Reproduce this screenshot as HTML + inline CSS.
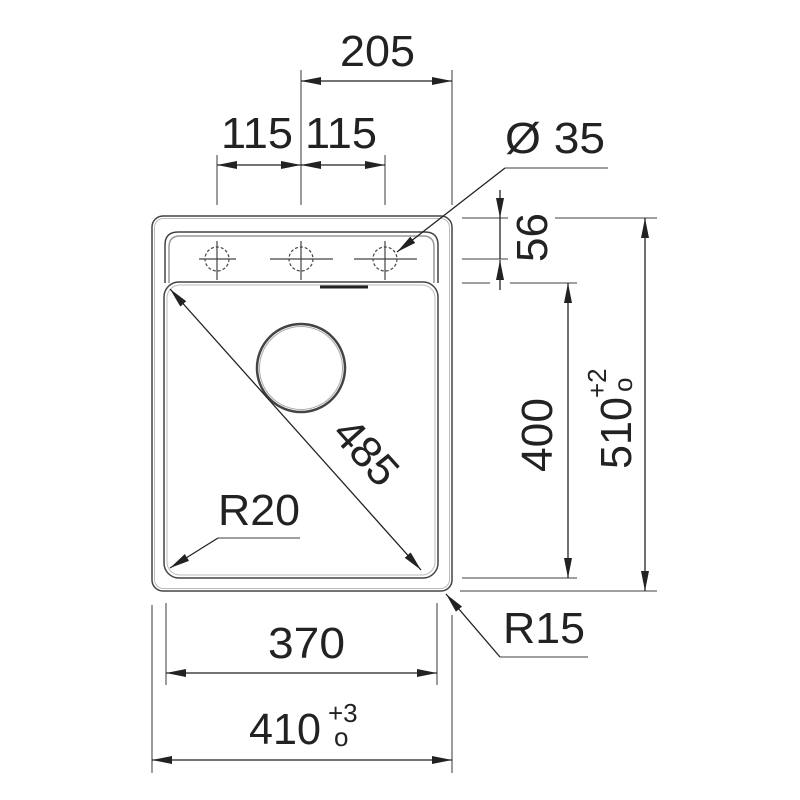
<!DOCTYPE html>
<html><head><style>html,body{margin:0;padding:0;background:#fff}svg{display:block}text{font-family:"Liberation Sans",Arial,sans-serif;fill:#222}</style></head>
<body>
<svg width="800" height="800" viewBox="0 0 800 800" xmlns="http://www.w3.org/2000/svg">
<defs>
<marker id="a" viewBox="0 0 20 8" refX="20" refY="4" markerWidth="20" markerHeight="8" markerUnits="userSpaceOnUse" orient="auto-start-reverse"><path d="M0,0L20,4L0,8Z" fill="#222"/></marker>
</defs>
<g fill="none" stroke="#444" stroke-width="1.5">
<rect x="152" y="216" width="300" height="375" rx="11"/>
<rect x="154.5" y="218.5" width="295" height="370" rx="9" stroke="#bbb" stroke-width="1"/>
<path d="M165,283 L165,245 Q165,232 178,232 L425,232 Q438,232 438,245 L438,283"/>
<path d="M169,283 L169,247 Q169,236 180,236 L423,236 Q434,236 434,247 L434,283" stroke="#999"/>
<rect x="164" y="282" width="274" height="296" rx="15"/>
<rect x="167" y="285" width="268" height="290" rx="13" stroke="#bbb" stroke-width="1"/>
<circle cx="301" cy="368" r="44" stroke-width="2.5"/>
<circle cx="301" cy="368" r="41.5" stroke="#aaa" stroke-width="1"/>
<g stroke-width="1.2">
<circle cx="217" cy="259" r="12" stroke-dasharray="3,2"/>
<circle cx="301" cy="259" r="12" stroke-dasharray="3,2"/>
<circle cx="385" cy="259" r="12" stroke-dasharray="3,2"/>
<path d="M199,259H236M217,241V280M270,259H333M301,241V280M354,259H417M385,241V280"/>
</g>
</g>
<line x1="320" y1="287" x2="368" y2="287" stroke="#222" stroke-width="3"/>
<g fill="none" stroke="#666" stroke-width="1.3">
<path d="M301,70V205M452,70V205M217,155V205M385,155V205"/>
<path d="M462,218H508M555,218H657M462,259H508M462,283H490M510,283H577M462,578H577M460,591H657"/>
<path d="M166,603V685M437,603V685M152,605V773M452,615V773"/>
<path d="M505,168H608M300,538H218M500,657H588"/>
</g>
<g fill="none" stroke="#222" stroke-width="1.3">
<line x1="301" y1="81" x2="452" y2="81" marker-start="url(#a)" marker-end="url(#a)"/>
<line x1="217" y1="165" x2="301" y2="165" marker-start="url(#a)" marker-end="url(#a)"/>
<line x1="301" y1="165" x2="385" y2="165" marker-start="url(#a)" marker-end="url(#a)"/>
<line x1="505" y1="168" x2="397" y2="252" marker-end="url(#a)"/>
<line x1="500" y1="190" x2="500" y2="218" marker-end="url(#a)"/>
<line x1="500" y1="218" x2="500" y2="259"/>
<line x1="500" y1="290" x2="500" y2="260" marker-end="url(#a)"/>
<line x1="568" y1="283" x2="568" y2="578" marker-start="url(#a)" marker-end="url(#a)"/>
<line x1="645" y1="218" x2="645" y2="591" marker-start="url(#a)" marker-end="url(#a)"/>
<line x1="166" y1="673" x2="437" y2="673" marker-start="url(#a)" marker-end="url(#a)"/>
<line x1="152" y1="760" x2="452" y2="760" marker-start="url(#a)" marker-end="url(#a)"/>
<line x1="170" y1="289" x2="421" y2="570" marker-start="url(#a)" marker-end="url(#a)"/>
<line x1="218" y1="538" x2="170" y2="568" marker-end="url(#a)"/>
<line x1="500" y1="657" x2="446" y2="594" marker-end="url(#a)"/>
</g>
<g font-size="44">
<text x="340" y="66" textLength="75" lengthAdjust="spacingAndGlyphs">205</text>
<text x="221" y="148" textLength="72" lengthAdjust="spacingAndGlyphs">115</text>
<text x="305" y="148" textLength="72" lengthAdjust="spacingAndGlyphs">115</text>
<text x="505" y="153" textLength="100" lengthAdjust="spacingAndGlyphs">Ø 35</text>
<text x="268" y="658" textLength="77" lengthAdjust="spacingAndGlyphs">370</text>
<text x="249" y="744" textLength="72" lengthAdjust="spacingAndGlyphs">410</text>
<text x="328" y="722" font-size="26">+3</text>
<text x="334" y="746" font-size="26">o</text>
<text x="503" y="643" textLength="82" lengthAdjust="spacingAndGlyphs">R15</text>
<text x="218" y="525" textLength="82" lengthAdjust="spacingAndGlyphs">R20</text>
<text transform="translate(355,462) rotate(48)" text-anchor="middle">485</text>
<text transform="translate(552,472) rotate(-90)" textLength="74" lengthAdjust="spacingAndGlyphs">400</text>
<text transform="translate(547,262) rotate(-90)" textLength="49" lengthAdjust="spacingAndGlyphs">56</text>
<text transform="translate(631,469) rotate(-90)" textLength="72" lengthAdjust="spacingAndGlyphs">510</text>
<text transform="translate(606,398) rotate(-90)" font-size="26">+2</text>
<text transform="translate(632,392) rotate(-90)" font-size="26">o</text>
</g>
</svg>
</body></html>
